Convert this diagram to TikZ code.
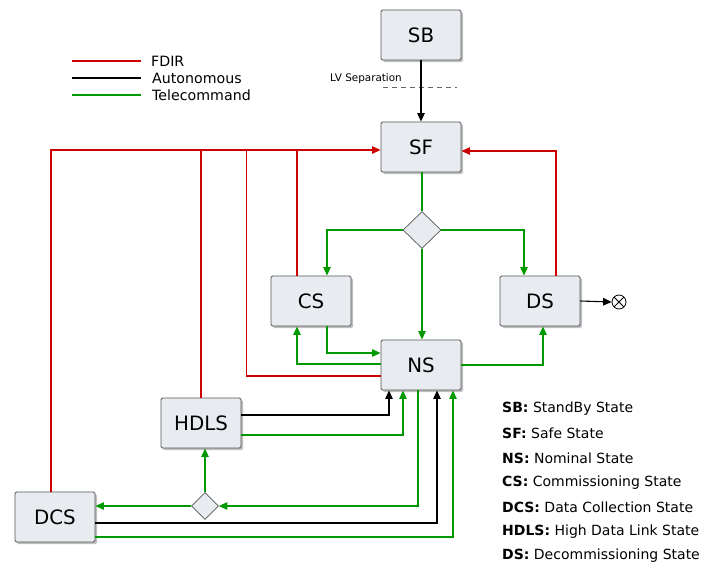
\documentclass[tikz,border=0pt]{standalone}
\usepackage{fontspec}
\setmainfont{DejaVu Sans}
\usetikzlibrary{arrows.meta,shapes.geometric,shadows,calc}
\definecolor{fdirred}{RGB}{204,0,0}
\definecolor{tcgreen}{RGB}{0,153,0}
\definecolor{boxfill}{RGB}{232,236,240}
\definecolor{boxline}{RGB}{85,85,85}
\begin{document}
\begin{tikzpicture}[x=1pt,y=-1pt,
  statebox/.style={draw=boxline, line width=0.9pt, fill=boxfill, rounded corners=1.5pt,
    minimum width=80pt, minimum height=50pt, inner sep=0pt,
    font=\fontsize{19.8}{22}\selectfont,
    drop shadow={shadow xshift=2pt, shadow yshift=-2pt, fill=black!25, opacity=1}},
  choice/.style={diamond, draw=boxline, line width=0.7pt, fill=boxfill, inner sep=0pt, aspect=1},
  tip/.style={-{Triangle[length=8.5pt,width=7.5pt]}},
  base/.style={line width=1.1pt},
  fdir/.style={base, draw=fdirred, tip},
  fdirline/.style={base, draw=fdirred},
  auto/.style={base, draw=black, tip},
  tc/.style={base, draw=tcgreen, tip},
  tcline/.style={base, draw=tcgreen},
  legtext/.style={anchor=west, inner sep=0pt, font=\fontsize{14.2}{16}\selectfont},
  keytext/.style={anchor=west, inner sep=0pt, font=\fontsize{14}{16}\selectfont}
]
\useasboundingbox (0,0) rectangle (702,565);

% state boxes
\node[statebox] (sb)   at (421,35)  {SB};
\node[statebox] (sf)   at (421,147) {SF};
\node[statebox] (cs)   at (311,301) {CS};
\node[statebox] (ns)   at (421,365) {NS};
\node[statebox] (ds)   at (540,301) {DS};
\node[statebox] (hdls) at (201,423) {HDLS};
\node[statebox] (dcs)  at (55,517)  {DCS};
\node[choice, minimum width=38pt, minimum height=37pt] (d1) at (422,230) {};
\node[choice, minimum width=27pt, minimum height=27pt] (d2) at (205,506) {};
\node[circle, draw=black, line width=0.8pt, minimum size=14pt, inner sep=0pt,
  path picture={\draw[line width=0.8pt] (path picture bounding box.north west) -- (path picture bounding box.south east)
  (path picture bounding box.north east) -- (path picture bounding box.south west);}] (end) at (619,302) {};

% LV separation
\coordinate (lva) at (383,87);
\coordinate (lvb) at (457,87);
\draw[draw=black!60, line width=0.9pt, dash pattern=on 5pt off 4pt] (lva) -- (lvb);
\node[anchor=west, inner sep=0pt, font=\fontsize{10.4}{12}\selectfont] (lv) at (330,79) {LV Separation};

% autonomous
\draw[auto] (sb) -- (sf);
\draw[auto] (ds.east) -- (end.west);
\draw[auto] ([yshift=8pt]hdls.east) -| ([xshift=-32pt]ns.south);
\draw[auto] ([yshift=-6pt]dcs.east) -| ([xshift=16pt]ns.south);

% FDIR
\coordinate (sfin) at ([yshift=-3pt]sf.west);
\draw[fdir] ([xshift=-4pt]dcs.north) |- (sfin);
\draw[fdirline] (hdls.north) -- (hdls.north |- sfin);
\coordinate (csr) at ([xshift=-14pt]cs.north);
\draw[fdirline] (csr) -- (csr |- sfin);
\draw[fdirline] ([yshift=-11pt]ns.west) -| ($(sfin)+(-134.5,0)$);
\draw[fdir] ([xshift=16pt]ds.north) |- ([yshift=-4pt]sf.east);

% telecommand
\draw[tcline] (d1.north |- sf.south) -- (d1.north);
\draw[tc] (d1.west) -| ([xshift=16pt]cs.north);
\draw[tc] (d1.east) -| ([xshift=-16pt]ds.north);
\draw[tc] (d1.south) -- (d1.south |- ns.north);
\draw[tc] ([xshift=16pt]cs.south) |- ([yshift=12pt]ns.west);
\draw[tc] ([yshift=1pt]ns.west) -| ([xshift=-14pt]cs.south);
\draw[tc] (ns.east) -| ([xshift=3pt]ds.south);
\draw[tc] ([yshift=-12pt]hdls.east) -| ([xshift=-18pt]ns.south);
\draw[tc] ([xshift=-3pt]ns.south) |- (d2.east);
\draw[tc] (d2.north) -- (d2.north |- hdls.south);
\draw[tc] (d2.west) -- (d2.west -| dcs.east);
\draw[tc] ([yshift=-20pt]dcs.east) -| ([xshift=32pt]ns.south);

% legend
\coordinate (l1a) at (72,61); \coordinate (l1b) at (141,61);
\coordinate (l2a) at (72,78); \coordinate (l2b) at (141,78);
\coordinate (l3a) at (72,95); \coordinate (l3b) at (141,95);
\draw[fdirline] (l1a) -- (l1b);
\draw[base, draw=black] (l2a) -- (l2b);
\draw[tcline] (l3a) -- (l3b);
\node[legtext] (lg1) at (151,61) {FDIR};
\node[legtext] (lg2) at (152,78) {Autonomous};
\node[legtext] (lg3) at (152,95) {Telecommand};

% key
\node[keytext] (k1) at (502,409) {\textbf{SB:} StandBy State};
\node[keytext] (k2) at (502,433) {\textbf{SF:} Safe State};
\node[keytext] (k3) at (502,458) {\textbf{NS:} Nominal State};
\node[keytext] (k4) at (502,483) {\textbf{CS:} Commissioning State};
\node[keytext] (k5) at (502,507) {\textbf{DCS:} Data Collection State};
\node[keytext] (k6) at (502,532) {\textbf{HDLS:} High Data Link State};
\node[keytext] (k7) at (502,556) {\textbf{DS:} Decommissioning State};
\end{tikzpicture}
\end{document}
